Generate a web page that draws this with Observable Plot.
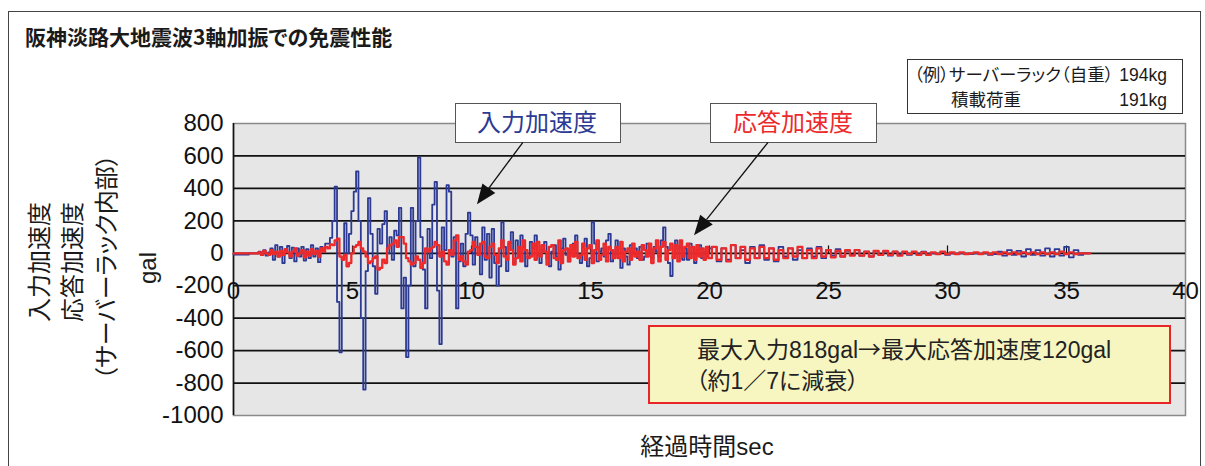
<!DOCTYPE html>
<html><head><meta charset="utf-8">
<script src="https://cdn.jsdelivr.net/npm/d3@7"></script>
<script src="https://cdn.jsdelivr.net/npm/@observablehq/plot@0.6"></script>
<style>
body{margin:0;background:#fff;}
#wrap{position:relative;width:1205px;height:466px;overflow:hidden;background:#fff;
  font-family:"Liberation Sans","Noto Sans CJK JP",sans-serif;font-feature-settings:"palt";color:#1a1a1a;}
.abs{position:absolute;white-space:nowrap;line-height:1;}
.c{transform:translate(-50%,-50%);}
.l{transform:translateY(-50%);}
.r{transform:translate(-100%,-50%);}
.rot{transform:translate(-50%,-50%) rotate(-90deg);}
.cjk{font-family:"Noto Sans CJK JP",sans-serif;}
</style></head><body><div id="wrap"></div>
<script>
// ---- texts ----
const title = "阪神淡路大地震波3軸加振での免震性能";
const yTitleLines = ["入力加速度", "応答加速度", "（サーバーラック内部）", "gal"];
const xTitle = "経過時間sec";
const infoLines = [["（例）サーバーラック（自重）", "194kg"], ["積載荷重", "191kg"]];
const inputLabel = "入力加速度";
const responseLabel = "応答加速度";
const noteLine1 = ["最大入力818gal", "→", "最大応答加速度120gal"];
const noteLine2 = "（約1／7に減衰）";

// ---- ticks ----
const yTicks = [800, 600, 400, 200, 0, -200, -400, -600, -800, -1000];
const xTicks = [0, 5, 10, 15, 20, 25, 30, 35, 40];

// ---- input acceleration (gal), 0.0–20.0 s every 0.1 s ----
const inputStepA = 0.1;
const inputA = [
  -8,-8,-8,-8,-8,-8,-8,0,0,0,0,
  10,-10,20,-15,5,30,-40,50,-20,40,
  -60,20,45,-30,35,-50,30,-20,40,-45,
  25,-30,50,-20,30,-55,40,10,60,60,
  95,200,410,-300,-610,-30,185,0,120,260,
  380,505,200,-400,-840,-110,340,120,-80,-250,
  150,60,180,260,0,100,-40,140,110,280,
  -340,-150,-640,-200,280,-80,200,590,100,-100,
  -340,150,-30,300,440,-230,-560,160,20,420,
  380,-20,100,-340,-50,60,-80,120,250,110,
  -70,100,40,-130,160,-40,120,-150,150,-60,
  -200,-80,190,40,-110,60,130,-60,80,-20,
  110,40,-80,-20,70,30,110,-10,-60,20,
  70,-30,-80,10,50,-20,-100,30,90,-10,
  -50,20,60,110,-20,-60,40,90,-80,-30,
  190,60,-50,10,30,-20,80,120,-50,-10,
  80,-30,-90,30,-20,-70,50,10,30,-30,
  40,-40,-20,60,10,-30,40,10,-20,80,
  160,40,-60,-140,-20,80,30,70,-40,30,
  -40,60,40,-60,20,50,-30,10,-20,30
];
// ---- input acceleration (gal), 20.2–36.0 s every 0.2 s ----
const inputStartB = 20.2;
const inputStepB = 0.2;
const inputB = [
  40,-50,30,-40,50,-30,20,-60,40,-30,
  50,-40,30,-50,40,-20,30,-40,20,-30,
  30,-20,40,-30,20,-15,25,-20,15,-10,
  20,-15,10,-20,15,-10,10,-15,10,-5,
  5,-10,5,-5,10,-5,0,-5,5,-10,
  0,-5,0,-5,-5,0,-5,0,-10,-5,
  10,-15,20,-10,15,-20,25,-10,20,-15,
  30,-20,25,-15,40,-25,20,-10,0,0
];
// ---- response acceleration (gal), 0.0–20.0 s every 0.1 s ----
const responseStepA = 0.1;
const responseA = [
  0,0,0,0,0,0,0,0,0,0,0,
  5,-10,15,0,-10,20,-5,10,-20,15,
  -10,25,5,-20,10,30,-15,0,20,-25,
  10,-15,25,-5,15,-20,30,10,40,30,
  55,50,80,90,-20,-40,-10,-80,-60,0,
  40,50,70,30,10,-20,-60,-50,-30,-20,
  -100,-90,-40,-60,30,50,60,80,40,100,
  100,60,-30,-50,-70,-60,-20,-40,-90,-60,
  30,10,30,40,70,50,-20,10,-50,-70,
  20,-10,80,110,-40,-20,-50,-70,10,20,
  70,40,-10,60,70,-20,-30,40,60,-10,
  -60,30,80,-20,-40,70,20,-70,-30,40,
  -50,80,20,-30,-20,60,-40,70,-20,50,
  10,-70,40,50,-30,-40,80,-60,20,30,
  -50,50,-20,70,-30,-10,60,-40,30,50,
  -60,20,80,-40,-10,60,-50,40,20,-30,
  40,-30,70,-50,10,30,-40,60,-20,10,
  -40,50,20,-20,60,-60,30,80,-50,40,
  70,-40,20,60,-30,50,-50,80,-20,40,
  60,-30,40,-40,50,-20,30,-40,40,-30
];
// ---- response acceleration (gal), 20.2–36.0 s every 0.2 s ----
const responseStartB = 20.2;
const responseStepB = 0.2;
const responseB = [
  40,-40,30,-50,50,-30,40,-40,30,-30,
  40,-30,30,-40,20,-30,30,-20,40,-30,
  20,-30,30,-20,20,-25,15,-20,20,-15,
  20,-15,10,-20,15,-10,15,-10,10,-15,
  10,-5,10,-10,5,-10,5,-5,10,-5,
  5,-5,5,-5,0,5,-5,5,-5,5,
  -5,5,-5,5,-5,5,-5,5,-5,5,
  -5,5,-5,10,-5,5,-5,0,0,0
];
// callout arrows: [from(t, gal), to(t, gal)]
const inputArrow = [[12.18, 681], [10.25, 299]];
const responseArrow = [[22.48, 681], [19.37, 108]];

const inputRows = inputA.map((v, i) => ({t: i * inputStepA, v}))
  .concat(inputB.map((v, i) => ({t: inputStartB + i * inputStepB, v})));
const responseRows = responseA.map((v, i) => ({t: i * responseStepA, v}))
  .concat(responseB.map((v, i) => ({t: responseStartB + i * responseStepB, v})));

const FONT = '"Liberation Sans","Noto Sans CJK JP",sans-serif';
const BLUE = "#2c3a94", RED = "#ec2a2c";

const plot = Plot.plot({
  width: 1205, height: 466,
  marginLeft: 233, marginRight: 20, marginTop: 123, marginBottom: 51,
  x: {domain: [0, 40], axis: null},
  y: {domain: [-1000, 800], axis: null},
  style: {fontFamily: FONT, background: "transparent", color: "#111", overflow: "visible"},
  marks: [
    Plot.frame({fill: "#e6e6e6", stroke: "#8a8a8a", strokeWidth: 1.5}),
    Plot.ruleY(yTicks.filter(v => v < 800 && v > -1000), {stroke: "#111", strokeWidth: 1.8}),
    Plot.ruleX([0], {stroke: "#111", strokeWidth: 1.6}),
    Plot.ruleX(xTicks.filter(v => v > 0 && v < 40), {x: d => d, y1: 0, y2: 45, stroke: "#111", strokeWidth: 1.2}),
    Plot.axisY({ticks: yTicks, tickSize: 0, tickPadding: 10, fontSize: 24, label: null,
      tickFormat: d => String(d), fill: "#111"}),
    Plot.text(xTicks, {x: d => d, y: 0, dy: 38, text: d => String(d), fontSize: 24, fill: "#111"}),
    Plot.line(inputRows, {x: "t", y: "v", curve: "step", stroke: BLUE, strokeWidth: 1.8}),
    Plot.line(responseRows, {x: "t", y: "v", curve: "step", stroke: RED, strokeWidth: 2.3})
  ]
});
plot.style.position = "absolute"; plot.style.left = "0"; plot.style.top = "0";
const wrap = document.getElementById("wrap");
wrap.appendChild(plot);

function div(cls, css, html) {
  const d = document.createElement("div");
  d.className = "abs " + cls;
  d.style.cssText = css;
  d.innerHTML = html || "";
  wrap.appendChild(d);
  return d;
}
// outer frame
div("", "left:8px;top:11px;width:1191px;height:480px;border:1.5px solid #444;");
// title
div("l cjk", "left:25px;top:36px;font-size:21px;font-weight:700;color:#1a1a1a;", title);
// y title lines
const yCx = [40, 73, 107, 148], yCy = [262, 262, 267, 268];
yTitleLines.forEach((s, i) => div("rot", `left:${yCx[i]}px;top:${yCy[i]}px;font-size:24px;`, s));
// x title
div("c", "left:707px;top:447px;font-size:24px;", xTitle);
// info box
const info = div("", "left:907px;top:59px;width:274px;height:53px;border:1px solid #333;background:#fff;");
const infoY = [16, 41], infoX = [6, 43];
infoLines.forEach(([a, b], i) => {
  const p = document.createElement("div"); p.className = "abs l";
  p.style.cssText = `left:${infoX[i]}px;top:${infoY[i]}px;font-size:17.5px;`; p.textContent = a; info.appendChild(p);
  const q = document.createElement("div"); q.className = "abs r";
  q.style.cssText = `left:259px;top:${infoY[i]}px;font-size:17.5px;`; q.textContent = b; info.appendChild(q);
});
// callout boxes
div("", `left:455px;top:103px;width:164px;height:38px;border:1px solid #555;background:#fff;`);
div("c", `left:537px;top:123px;font-size:24px;color:${BLUE};`, inputLabel);
div("", `left:710px;top:103px;width:165px;height:38px;border:1px solid #555;background:#fff;`);
div("c", `left:793px;top:123px;font-size:24px;color:${RED};`, responseLabel);
// note box
div("", "left:648px;top:325px;width:519px;height:75px;border:2.5px solid #e8262a;background:#f7f5c0;");
div("l", "left:697px;top:349px;font-size:23px;color:#222;",
  `${noteLine1[0]}<span class="cjk">${noteLine1[1]}</span>${noteLine1[2]}`);
div("l", "left:696px;top:381px;font-size:23px;color:#222;", noteLine2);

// arrows, positioned through the plot's scales
const sx = plot.scale("x"), sy = plot.scale("y");
const svg = d3.select(wrap).append("svg").attr("width", 1205).attr("height", 466)
  .style("position", "absolute").style("left", 0).style("top", 0);
[inputArrow, responseArrow].forEach(([[t1, v1], [t2, v2]]) => {
  const x1 = sx.apply(t1), y1 = sy.apply(v1), x2 = sx.apply(t2), y2 = sy.apply(v2);
  const dx = x2 - x1, dy = y2 - y1, L = Math.hypot(dx, dy), ux = dx / L, uy = dy / L;
  const hl = 20, hw = 8;
  const bx = x2 - ux * hl, by = y2 - uy * hl;
  svg.append("line").attr("x1", x1).attr("y1", y1).attr("x2", bx).attr("y2", by)
    .attr("stroke", "#111").attr("stroke-width", 1.3);
  svg.append("path").attr("d", `M${x2},${y2}L${bx - uy * hw},${by + ux * hw}L${bx + uy * hw},${by - ux * hw}Z`)
    .attr("fill", "#111");
});
</script></body></html>
